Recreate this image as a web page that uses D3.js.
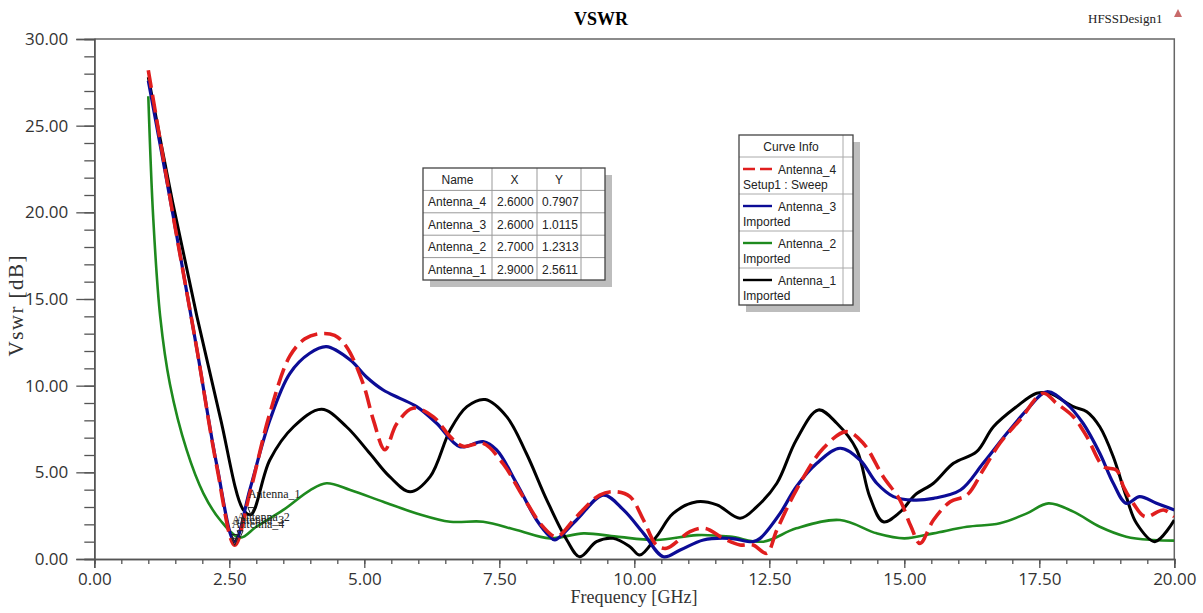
<!DOCTYPE html>
<html>
<head>
<meta charset="utf-8">
<script src="https://cdn.jsdelivr.net/npm/d3@7"></script>
<style>
  html, body { margin: 0; padding: 0; background: #fff; overflow: hidden; }
  svg { display: block; }
  .tick-lbl { font-family: 'Open Sans', sans-serif; font-size: 17px; fill: #333; }
  .info { font-family: 'Liberation Sans', Arial, sans-serif; font-size: 12px; fill: #222; }
  .mk-lbl { font-family: 'Liberation Serif', serif; font-size: 12px; fill: #222; }
</style>
</head>
<body>
<script>
'use strict';

// [freq GHz, vswr]
const antenna4 = [
  [1.0, 28.2], [1.46, 19.8], [1.9, 12.1], [2.27, 5.3], [2.6, 0.79], [2.88, 3.8], [3.25, 8.4],
  [3.62, 11.7], [3.9, 12.7], [4.18, 13.0], [4.45, 12.9], [4.67, 12.25], [4.98, 10.1], [5.17, 8.0],
  [5.38, 6.3], [5.6, 7.8], [5.9, 8.7], [6.28, 8.2], [6.59, 7.06], [6.83, 6.5], [7.2, 6.67],
  [7.57, 5.5], [7.94, 3.6], [8.31, 1.86], [8.56, 1.29], [8.93, 2.44], [9.36, 3.69], [9.67, 3.88],
  [9.92, 3.6], [10.17, 2.25], [10.41, 0.8], [10.6, 0.62], [11.03, 1.58], [11.31, 1.77],
  [11.65, 1.19], [11.96, 0.81], [12.2, 0.81], [12.45, 0.33], [12.64, 1.67], [13.0, 3.98],
  [13.5, 6.39], [13.93, 7.35], [14.24, 6.68], [14.61, 4.75], [14.92, 3.4], [15.12, 1.9],
  [15.29, 0.9], [15.54, 2.25], [15.85, 3.3], [16.16, 3.69], [16.46, 5.13], [16.77, 6.68],
  [17.14, 8.02], [17.57, 9.56], [17.82, 8.98], [18.13, 8.21], [18.38, 7.06], [18.69, 5.33],
  [18.93, 5.13], [19.06, 4.17], [19.24, 3.21], [19.46, 2.44], [19.8, 2.83], [20.0, 2.44]
];
const antenna3 = [
  [1.0, 27.6], [1.46, 19.8], [1.9, 12.1], [2.27, 5.4], [2.6, 1.01], [2.88, 4.0], [3.25, 8.0],
  [3.62, 10.7], [3.99, 11.87], [4.3, 12.25], [4.74, 11.48], [5.04, 10.5], [5.35, 9.75],
  [5.66, 9.27], [5.97, 8.79], [6.34, 7.83], [6.77, 6.48], [7.2, 6.77], [7.45, 6.29], [7.82, 4.37],
  [8.19, 2.25], [8.44, 1.29], [8.53, 1.1], [8.93, 2.25], [9.43, 3.69], [9.8, 2.83], [10.17, 1.48],
  [10.54, 0.13], [10.85, 0.52], [11.28, 1.1], [11.77, 1.19], [12.2, 1.0], [12.33, 1.19],
  [12.7, 2.63], [13.0, 4.17], [13.38, 5.52], [13.81, 6.39], [14.18, 5.71], [14.49, 4.37],
  [14.8, 3.6], [15.17, 3.4], [15.54, 3.5], [16.04, 3.98], [16.46, 5.52], [16.9, 7.25],
  [17.27, 8.6], [17.64, 9.65], [18.0, 8.98], [18.31, 7.83], [18.62, 6.1], [18.87, 4.37],
  [19.11, 3.21], [19.36, 3.6], [19.67, 3.21], [20.0, 2.83]
];
const antenna2 = [
  [1.0, 26.7], [1.09, 19.75], [1.22, 14.0], [1.4, 10.1], [1.71, 6.29], [2.02, 3.79], [2.33, 2.25],
  [2.7, 1.23], [3.0, 1.86], [3.5, 2.83], [4.0, 3.98], [4.3, 4.37], [4.74, 3.98], [5.35, 3.3],
  [5.97, 2.63], [6.59, 2.15], [7.2, 2.15], [7.82, 1.67], [8.44, 1.19], [9.06, 1.48], [9.67, 1.29],
  [10.41, 1.1], [11.16, 1.38], [11.77, 1.29], [12.39, 1.0], [13.0, 1.77], [13.81, 2.25],
  [14.49, 1.48], [15.0, 1.19], [15.54, 1.48], [16.16, 1.86], [16.77, 2.06], [17.27, 2.63],
  [17.67, 3.21], [18.13, 2.73], [18.62, 1.86], [19.11, 1.29], [19.61, 1.1], [20.0, 1.06]
];
const antenna1 = [
  [1.0, 27.8], [1.45, 20.6], [1.9, 14.0], [2.33, 8.2], [2.76, 2.83], [2.9, 2.56], [3.25, 5.71],
  [3.69, 7.63], [4.21, 8.64], [4.67, 7.63], [5.1, 6.1], [5.47, 4.75], [5.85, 3.88], [6.22, 4.75],
  [6.59, 7.44], [6.9, 8.79], [7.24, 9.2], [7.64, 8.2], [8.0, 6.1], [8.38, 3.4], [8.75, 1.1],
  [8.99, 0.13], [9.3, 1.0], [9.61, 1.19], [9.92, 0.71], [10.1, 0.23], [10.41, 1.29], [10.72, 2.63],
  [11.16, 3.3], [11.53, 3.12], [11.96, 2.35], [12.27, 3.02], [12.64, 4.37], [13.0, 6.87],
  [13.41, 8.6], [13.75, 7.83], [14.12, 6.29], [14.36, 3.6], [14.61, 2.15], [14.92, 2.7],
  [15.2, 3.7], [15.54, 4.37], [15.91, 5.52], [16.34, 6.19], [16.65, 7.63], [17.08, 8.79],
  [17.45, 9.56], [17.69, 9.56], [18.13, 8.79], [18.38, 8.5], [18.62, 7.63], [18.87, 5.9],
  [19.11, 3.6], [19.3, 2.06], [19.64, 1.0], [20.0, 2.25]
];

const seriesNames = ['Antenna_4', 'Antenna_3', 'Antenna_2', 'Antenna_1'];
const seriesSub = ['Setup1 : Sweep', 'Imported', 'Imported', 'Imported'];
const markerX = [2.6, 2.6, 2.7, 2.9];
const markerY = [0.7907, 1.0115, 1.2313, 2.5611];
const xTicks = [0, 2.5, 5, 7.5, 10, 12.5, 15, 17.5, 20];
const yTicks = [0, 5, 10, 15, 20, 25, 30];

const W = 1203, H = 613;
const svg = d3.select('body').append('svg').attr('width', W).attr('height', H);

const x = d3.scaleLinear().domain([0, 20]).range([94.3, 1174.3]);
const y = d3.scaleLinear().domain([0, 30]).range([559, 39]);

// titles
svg.append('text').attr('x', 601).attr('y', 25).attr('text-anchor', 'middle')
    .style('font-family', "'Liberation Serif', serif").style('font-size', '18px').style('font-weight', 'bold')
    .text('VSWR');
svg.append('text').attr('x', 1088).attr('y', 23)
    .style('font-family', "'Liberation Serif', serif").style('font-size', '13px').attr('fill', '#222')
    .text('HFSSDesign1');
svg.append('path').attr('d', 'M 1178 9 L 1182 17 L 1174 17 Z').attr('fill', '#c86a6a');

svg.append('text').attr('x', 634).attr('y', 603).attr('text-anchor', 'middle')
    .attr('textLength', 127).attr('lengthAdjust', 'spacing')
    .style('font-family', "'Liberation Serif', serif").style('font-size', '18px').attr('fill', '#333')
    .text('Frequency [GHz]');
svg.append('text').attr('transform', 'translate(23, 306) rotate(-90)').attr('text-anchor', 'middle')
    .attr('textLength', 101).attr('lengthAdjust', 'spacing')
    .style('font-family', "'Liberation Serif', serif").style('font-size', '21px').attr('fill', '#333')
    .text('Vswr [dB]');

// frame
svg.append('path')
    .attr('d', `M ${x(0)} ${y(30)} L ${x(20)} ${y(30)} L ${x(20)} ${y(0)}`)
    .attr('fill', 'none').attr('stroke', '#666').attr('stroke-width', 1.5);

// axes
function styleAxis(g) {
  g.select('.domain').attr('stroke', '#555').attr('stroke-width', 1.5);
  g.selectAll('.tick line').attr('stroke', '#555').attr('stroke-width', 1.3);
  g.selectAll('.tick text').attr('class', 'tick-lbl').attr('fill', null);
}
svg.append('g').attr('transform', `translate(${x(0)},0)`)
    .call(d3.axisLeft(y).tickValues(d3.range(0, 31, 1)).tickSize(10).tickFormat(''))
    .call(styleAxis);
svg.append('g').attr('transform', `translate(${x(0)},0)`)
    .call(d3.axisLeft(y).tickValues(yTicks).tickSize(18).tickPadding(8).tickFormat(d3.format('.2f')))
    .call(styleAxis);
svg.append('g').attr('transform', `translate(0,${y(0)})`)
    .call(d3.axisBottom(x).tickValues(d3.range(0, 20.01, 0.5)).tickSize(5).tickFormat(''))
    .call(styleAxis);
svg.append('g').attr('transform', `translate(0,${y(0)})`)
    .call(d3.axisBottom(x).tickValues(xTicks).tickSize(9).tickPadding(5).tickFormat(d3.format('.2f')))
    .call(styleAxis);

// curves
svg.append('clipPath').attr('id', 'clip').append('rect')
    .attr('x', x(0)).attr('y', y(30)).attr('width', x(20) - x(0)).attr('height', y(0) - y(30));
const plotg = svg.append('g').attr('clip-path', 'url(#clip)');

const line = d3.line().x(d => x(d[0])).y(d => y(d[1])).curve(d3.curveCatmullRom.alpha(0.5));

const curves = [
  { data: antenna2, color: '#1e8a1e', width: 2.6, dash: null },
  { data: antenna1, color: '#000000', width: 3, dash: null },
  { data: antenna3, color: '#0c0c96', width: 3.2, dash: null },
  { data: antenna4, color: '#e01e1e', width: 3.6, dash: '18,7' }
];
plotg.selectAll('path.curve').data(curves).enter().append('path')
    .classed('curve', true)
    .attr('d', d => line(d.data))
    .attr('fill', 'none')
    .attr('stroke', d => d.color)
    .attr('stroke-width', d => d.width)
    .attr('stroke-dasharray', d => d.dash)
    .attr('stroke-linejoin', 'round');

// markers (labels overlap each other, as in the source plot)
const markers = seriesNames.map((n, i) => ({ name: n, fx: markerX[i], fy: markerY[i] }));
const mg = svg.selectAll('g.mk').data(markers).enter().append('g').classed('mk', true)
    .attr('transform', d => `translate(${x(d.fx)},${y(d.fy)})`);
mg.append('path').attr('d', 'M -3 -7 L 3 -7 L 0 0 Z').attr('fill', 'none').attr('stroke', '#222').attr('stroke-width', 1);
mg.append('text').classed('mk-lbl', true).attr('x', -3).attr('y', -17).text(d => d.name);

// marker table
const tbl = { x: 423, y: 168, cols: [423, 492, 537, 581, 605], rowH: 22.4 };
const rows = seriesNames.map((n, i) => [n, markerX[i].toFixed(4), markerY[i].toFixed(4)]);
const tblH = tbl.rowH * (rows.length + 1);
svg.append('rect').attr('x', tbl.x + 7).attr('y', tbl.y + 7).attr('width', 182).attr('height', tblH).attr('fill', '#bdbdbd');
svg.append('rect').attr('x', tbl.x).attr('y', tbl.y).attr('width', 182).attr('height', tblH).attr('fill', '#fff');
const tg = svg.append('g');
d3.range(1, rows.length + 1).forEach(r => {
  tg.append('line').attr('x1', tbl.x).attr('x2', tbl.x + 182)
      .attr('y1', tbl.y + r * tbl.rowH).attr('y2', tbl.y + r * tbl.rowH).attr('stroke', '#999');
});
tbl.cols.slice(1, 4).forEach(cx => {
  tg.append('line').attr('x1', cx).attr('x2', cx).attr('y1', tbl.y).attr('y2', tbl.y + tblH).attr('stroke', '#999');
});
tg.append('rect').attr('x', tbl.x).attr('y', tbl.y).attr('width', 182).attr('height', tblH)
    .attr('fill', 'none').attr('stroke', '#444').attr('stroke-width', 1.3);
['Name', 'X', 'Y'].forEach((h, i) => {
  tg.append('text').classed('info', true).attr('text-anchor', 'middle')
      .attr('x', (tbl.cols[i] + tbl.cols[i + 1]) / 2).attr('y', tbl.y + 16).text(h);
});
rows.forEach((row, r) => {
  row.forEach((v, c) => {
    tg.append('text').classed('info', true)
        .attr('x', tbl.cols[c] + 5).attr('y', tbl.y + (r + 1) * tbl.rowH + 16).text(v);
  });
});

// curve info legend
const lg = { x: 739, y: 135, w: 114, headH: 22, rowH: 37 };
const lgH = lg.headH + lg.rowH * seriesNames.length;
svg.append('rect').attr('x', lg.x + 7).attr('y', lg.y + 7).attr('width', lg.w).attr('height', lgH).attr('fill', '#bdbdbd');
svg.append('rect').attr('x', lg.x).attr('y', lg.y).attr('width', lg.w).attr('height', lgH).attr('fill', '#fff');
const leg = svg.append('g');
leg.append('line').attr('x1', lg.x + lg.w - 10).attr('x2', lg.x + lg.w - 10)
    .attr('y1', lg.y).attr('y2', lg.y + lgH).attr('stroke', '#aaa');
d3.range(seriesNames.length).forEach(i => {
  const ry = lg.y + lg.headH + i * lg.rowH;
  leg.append('line').attr('x1', lg.x).attr('x2', lg.x + lg.w).attr('y1', ry).attr('y2', ry).attr('stroke', '#aaa');
});
leg.append('rect').attr('x', lg.x).attr('y', lg.y).attr('width', lg.w).attr('height', lgH)
    .attr('fill', 'none').attr('stroke', '#444').attr('stroke-width', 1.3);
leg.append('text').classed('info', true).attr('text-anchor', 'middle')
    .attr('x', lg.x + (lg.w - 10) / 2).attr('y', lg.y + 16).text('Curve Info');
const legendColors = ['#e01e1e', '#0c0c96', '#1e8a1e', '#000000'];
seriesNames.forEach((n, i) => {
  const ry = lg.y + lg.headH + i * lg.rowH;
  leg.append('line').attr('x1', lg.x + 4).attr('x2', lg.x + 33).attr('y1', ry + 12).attr('y2', ry + 12)
      .attr('stroke', legendColors[i]).attr('stroke-width', 2.4)
      .attr('stroke-dasharray', i === 0 ? '12,5' : null);
  leg.append('text').classed('info', true).attr('x', lg.x + 39).attr('y', ry + 17).text(n);
  leg.append('text').classed('info', true).attr('x', lg.x + 4).attr('y', ry + 32).text(seriesSub[i]);
});
</script>
</body>
</html>
